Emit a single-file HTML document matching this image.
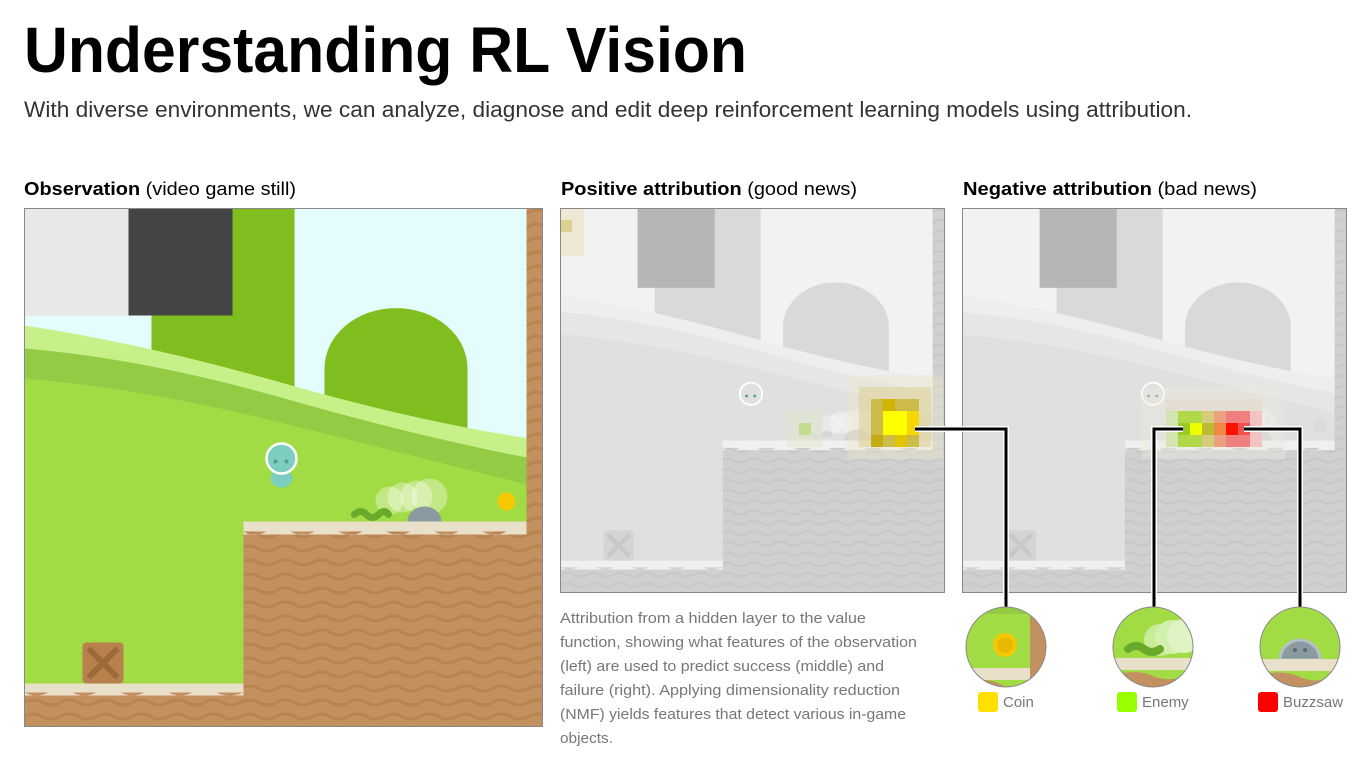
<!DOCTYPE html>
<html><head><meta charset="utf-8"><style>
html,body{margin:0;padding:0;background:#fff;width:1365px;height:762px;overflow:hidden}
svg{display:block}
.obs{--sky:#e4fcfc;--tl:#e8e8e8;--dk:#444444;--tree:#80bd1e;--band:#c8f088;--band2:#93cc44;--grass:#a2dc44;--cream:#e8e0c8;--dirt:#c3915f;--wave:#b98452;--crate:#b8804a;--crate2:#9a6a3a;--ch:#7ccfc0;--coin:#f6c800;--en:#6aaa2a;--saw:#8a9aa0;--ghost:rgba(255,255,255,.35)}
.gry{--sky:#f2f2f2;--tl:#f2f2f2;--dk:#b6b6b6;--tree:#d9d9d9;--band:#eeeeee;--band2:#e6e6e6;--grass:#e0e0e0;--cream:#f0f0f0;--dirt:#d0d0d0;--wave:#c8c8c8;--crate:#d4d4d4;--crate2:#c8c8c8;--ch:#e0e0e0;--coin:#dadada;--en:#d6d6d6;--saw:#d0d0d0;--ghost:rgba(255,255,255,.3)}
</style></head><body>
<svg width="1365" height="762" viewBox="0 0 1365 762" xmlns="http://www.w3.org/2000/svg" font-family="'Liberation Sans', sans-serif">
<defs>
<clipPath id="sq"><rect x="0" y="0" width="518" height="518"/></clipPath>
<clipPath id="dirtc">
<rect x="219" y="313" width="299" height="205"/>
<rect x="0" y="475" width="219" height="43"/>
<rect x="502" y="0" width="16" height="518"/>
</clipPath>
<path id="row" d="M0 0 Q9 -5 18 0 T36 0 T54 0 T72 0 T90 0 T108 0 T126 0 T144 0 T162 0 T180 0 T198 0 T216 0 T234 0 T252 0 T270 0 T288 0 T306 0 T324 0 T342 0 T360 0 T378 0 T396 0 T414 0 T432 0 T450 0 T468 0 T486 0 T504 0 T522 0 T540 0" fill="none" style="stroke:var(--wave)" stroke-width="3"/>
<g id="scene" clip-path="url(#sq)">
<rect width="518" height="518" style="fill:var(--sky)"/>
<rect x="127" y="0" width="143" height="200" style="fill:var(--tree)"/>
<path d="M300 230 V160 A71 60 0 0 1 443 160 V230 Z" style="fill:var(--tree)"/>
<path d="M0 117 Q120 135 260 175 T518 232 V518 H0Z" style="fill:var(--band)"/>
<path d="M0 140 Q120 150 260 190 T518 252 V518 H0Z" style="fill:var(--band2)"/>
<path d="M0 170 Q120 180 260 215 T518 280 V518 H0Z" style="fill:var(--grass)"/>
<rect x="0" y="0" width="104" height="107" style="fill:var(--tl)"/>
<rect x="104" y="0" width="104" height="107" style="fill:var(--dk)"/>
<g clip-path="url(#dirtc)">
<rect width="518" height="518" style="fill:var(--dirt)"/>
<use href="#row" y="4"/><use href="#row" y="18"/><use href="#row" y="32"/><use href="#row" y="46"/><use href="#row" y="60"/><use href="#row" y="74"/><use href="#row" y="88"/><use href="#row" y="102"/><use href="#row" y="116"/><use href="#row" y="130"/><use href="#row" y="144"/><use href="#row" y="158"/><use href="#row" y="172"/><use href="#row" y="186"/><use href="#row" y="200"/><use href="#row" y="214"/><use href="#row" y="228"/><use href="#row" y="242"/><use href="#row" y="256"/><use href="#row" y="270"/><use href="#row" y="284"/><use href="#row" y="298"/><use href="#row" y="312"/><use href="#row" y="326"/><use href="#row" y="340"/><use href="#row" y="354"/><use href="#row" y="368"/><use href="#row" y="382"/><use href="#row" y="396"/><use href="#row" y="410"/><use href="#row" y="424"/><use href="#row" y="438"/><use href="#row" y="452"/><use href="#row" y="466"/><use href="#row" y="480"/><use href="#row" y="494"/><use href="#row" y="508"/>
</g>
<rect x="219" y="313" width="283" height="10" style="fill:var(--cream)"/>
<path d="M219 323 Q230 330 242 323 T266 323 T290 323 T314 323 T338 323 T362 323 T386 323 T410 323 T434 323 T458 323 T482 323 T502 323 V326 H219Z" style="fill:var(--cream)"/>
<rect x="0" y="475" width="219" height="9" style="fill:var(--cream)"/>
<path d="M0 484 Q12 490 24 484 T48 484 T72 484 T96 484 T120 484 T144 484 T168 484 T192 484 T219 484 V487 H0Z" style="fill:var(--cream)"/>
<rect x="58" y="434" width="41" height="41" rx="4" style="fill:var(--crate)"/>
<path d="M64 440 L93 469 M93 440 L64 469" style="stroke:var(--crate2)" stroke-width="6"/>
<circle cx="257" cy="250" r="14" style="fill:var(--ch)"/>
<ellipse cx="257" cy="270" rx="11" ry="9" style="fill:var(--ch)"/>
<circle cx="257" cy="250" r="15" fill="none" stroke="#fff" stroke-width="2.5"/>
<circle cx="251" cy="253" r="2" fill="#5a9a90"/><circle cx="262" cy="253" r="2" fill="#5a9a90"/>
<circle cx="365" cy="292" r="14" style="fill:var(--ghost)"/><circle cx="378" cy="289" r="15" style="fill:var(--ghost)"/><circle cx="392" cy="288" r="16" style="fill:var(--ghost)"/><circle cx="405" cy="288" r="18" style="fill:var(--ghost)"/>
<path d="M330 306 q6 -6 12 0 t12 0 t10 0" fill="none" style="stroke:var(--en)" stroke-width="7" stroke-linecap="round"/>
<path d="M383 313 A17 15 0 0 1 417 313Z" style="fill:var(--saw)"/>
<circle cx="482" cy="293" r="9" style="fill:var(--coin)"/>
</g>
</defs>

<text x="24" y="72" font-size="64" font-weight="bold" fill="#000" textLength="723" lengthAdjust="spacingAndGlyphs">Understanding RL Vision</text>
<text x="24" y="117" font-size="22" fill="#333" textLength="1168" lengthAdjust="spacingAndGlyphs">With diverse environments, we can analyze, diagnose and edit deep reinforcement learning models using attribution.</text>

<text x="24" y="195" font-size="18" fill="#000" textLength="272" lengthAdjust="spacingAndGlyphs"><tspan font-weight="bold">Observation</tspan> (video game still)</text>
<text x="561" y="195" font-size="18" fill="#000" textLength="296" lengthAdjust="spacingAndGlyphs"><tspan font-weight="bold">Positive attribution</tspan> (good news)</text>
<text x="963" y="195" font-size="18" fill="#000" textLength="294" lengthAdjust="spacingAndGlyphs"><tspan font-weight="bold">Negative attribution</tspan> (bad news)</text>

<g class="obs" transform="translate(24.5,208.5)"><use href="#scene"/></g>
<rect x="24.5" y="208.5" width="518" height="518" fill="none" stroke="#888"/>

<g class="gry" transform="translate(560.5,208.5) scale(0.7413)"><use href="#scene"/></g>
<g class="gry" transform="translate(962.5,208.5) scale(0.7413)"><use href="#scene"/></g>

<!-- positive heatmap -->
<g>
<rect x="560" y="208" width="24" height="48" fill="#e6ddb0" opacity=".5"/>
<rect x="560" y="220" width="12" height="12" fill="#d8cc80" opacity=".8"/>
<rect x="847" y="375" width="96" height="84" fill="#ece7c4" opacity=".4"/>
<rect x="859" y="387" width="72" height="60" fill="#ddd29a" opacity=".6"/>
<rect x="871" y="399" width="48" height="48" fill="#c8b636" opacity=".85"/>
<rect x="883" y="399" width="12" height="12" fill="#d0b400"/>
<rect x="883" y="411" width="24" height="24" fill="#ffff00"/>
<rect x="907" y="411" width="12" height="24" fill="#f5d800"/>
<rect x="895" y="435" width="12" height="12" fill="#e0c400"/>
<rect x="871" y="435" width="12" height="12" fill="#c4ac14"/>
<rect x="787" y="411" width="36" height="36" fill="#dde8c8" opacity=".5"/>
<rect x="799" y="423" width="12" height="12" fill="#c4dc90"/>
</g>
<!-- negative heatmap -->
<g>
<rect x="1142" y="387" width="144" height="72" fill="#ece8dc" opacity=".4"/>
<rect x="1166" y="399" width="96" height="48" fill="#e4d8c8" opacity=".6"/>
<rect x="1166" y="411" width="12" height="36" fill="#d4e4b0"/>
<rect x="1178" y="411" width="24" height="36" fill="#b0d848"/>
<rect x="1202" y="411" width="12" height="36" fill="#d4cc7c"/>
<rect x="1214" y="411" width="12" height="36" fill="#eca080"/>
<rect x="1226" y="411" width="24" height="36" fill="#f08080"/>
<rect x="1250" y="411" width="12" height="36" fill="#f4c4c4"/>
<rect x="1178" y="423" width="12" height="12" fill="#99cc22"/>
<rect x="1190" y="423" width="12" height="12" fill="#eeff00"/>
<rect x="1202" y="423" width="12" height="12" fill="#bbbb33"/>
<rect x="1214" y="423" width="12" height="12" fill="#ee8844"/>
<rect x="1226" y="423" width="12" height="12" fill="#ff1100"/>
<rect x="1238" y="423" width="12" height="12" fill="#f05050"/>
</g>
<rect x="560.5" y="208.5" width="384" height="384" fill="none" stroke="#888"/>
<rect x="962.5" y="208.5" width="384" height="384" fill="none" stroke="#888"/>

<!-- connectors -->
<g fill="none" stroke-linejoin="miter">
<path d="M915 429 H1006 V608" stroke="#fff" stroke-width="6"/>
<path d="M1183 429 H1154 V608" stroke="#fff" stroke-width="6"/>
<path d="M1244 429 H1300 V608" stroke="#fff" stroke-width="6"/>
<path d="M915 429 H1006 V608" stroke="#000" stroke-width="3"/>
<path d="M1183 429 H1154 V608" stroke="#000" stroke-width="3"/>
<path d="M1244 429 H1300 V608" stroke="#000" stroke-width="3"/>
</g>

<!-- circles -->
<clipPath id="c1"><circle cx="1006" cy="647" r="40"/></clipPath>
<clipPath id="c2"><circle cx="1153" cy="647" r="40"/></clipPath>
<clipPath id="c3"><circle cx="1300" cy="647" r="40"/></clipPath>
<g clip-path="url(#c1)">
<rect x="960" y="600" width="100" height="100" fill="#a2dc44"/>
<rect x="960" y="600" width="100" height="14" fill="#93cc44"/>
<rect x="1030" y="600" width="20" height="100" fill="#c3915f"/>
<rect x="960" y="668" width="70" height="12" fill="#e8e0c8"/>
<path d="M960 684 Q985 676 1000 684 T1030 680 V700 H960Z" fill="#c3915f"/>
<circle cx="1005" cy="645" r="12" fill="#f6c800"/><circle cx="1005" cy="645" r="8" fill="#e8b800"/>
</g>
<g clip-path="url(#c2)">
<rect x="1110" y="600" width="100" height="100" fill="#a2dc44"/>
<circle cx="1160" cy="640" r="16" fill="#c8ec98"/><circle cx="1172" cy="637" r="17" fill="#d4f0b0"/><circle cx="1184" cy="636" r="17" fill="#def4c4"/>
<path d="M1128 649 q8 -6 16 0 t16 0" fill="none" stroke="#6aaa2a" stroke-width="8" stroke-linecap="round"/>
<rect x="1110" y="658" width="100" height="12" fill="#e8e0c8"/>
<path d="M1110 676 Q1135 668 1153 676 T1200 672 V700 H1110Z" fill="#c3915f"/>
</g>
<g clip-path="url(#c3)">
<rect x="1255" y="600" width="100" height="100" fill="#a2dc44"/>
<path d="M1280 660 A20 20 0 0 1 1320 660Z" fill="#8a9aa0" stroke="#b4c0c4" stroke-width="3"/>
<circle cx="1295" cy="650" r="2" fill="#5a6a70"/><circle cx="1305" cy="650" r="2" fill="#5a6a70"/>
<rect x="1255" y="659" width="100" height="12" fill="#e8e0c8"/>
<path d="M1255 677 Q1280 668 1300 677 T1345 672 V700 H1255Z" fill="#c3915f"/>
</g>
<circle cx="1006" cy="647" r="40" fill="none" stroke="#888"/>
<circle cx="1153" cy="647" r="40" fill="none" stroke="#888"/>
<circle cx="1300" cy="647" r="40" fill="none" stroke="#888"/>

<!-- legend -->
<rect x="978" y="692" width="20" height="20" rx="3" fill="#ffe000"/>
<text x="1003" y="707" font-size="15" fill="#777">Coin</text>
<rect x="1117" y="692" width="20" height="20" rx="3" fill="#99ff00"/>
<text x="1142" y="707" font-size="15" fill="#777">Enemy</text>
<rect x="1258" y="692" width="20" height="20" rx="3" fill="#ff0000"/>
<text x="1283" y="707" font-size="15" fill="#777">Buzzsaw</text>

<!-- caption -->
<g font-size="15" fill="#777">
<text x="560" y="623" textLength="306" lengthAdjust="spacingAndGlyphs">Attribution from a hidden layer to the value</text>
<text x="560" y="647" textLength="357" lengthAdjust="spacingAndGlyphs">function, showing what features of the observation</text>
<text x="560" y="671" textLength="324" lengthAdjust="spacingAndGlyphs">(left) are used to predict success (middle) and</text>
<text x="560" y="695" textLength="340" lengthAdjust="spacingAndGlyphs">failure (right). Applying dimensionality reduction</text>
<text x="560" y="719" textLength="346" lengthAdjust="spacingAndGlyphs">(NMF) yields features that detect various in-game</text>
<text x="560" y="743" textLength="53" lengthAdjust="spacingAndGlyphs">objects.</text>
</g>
</svg>
</body></html>
